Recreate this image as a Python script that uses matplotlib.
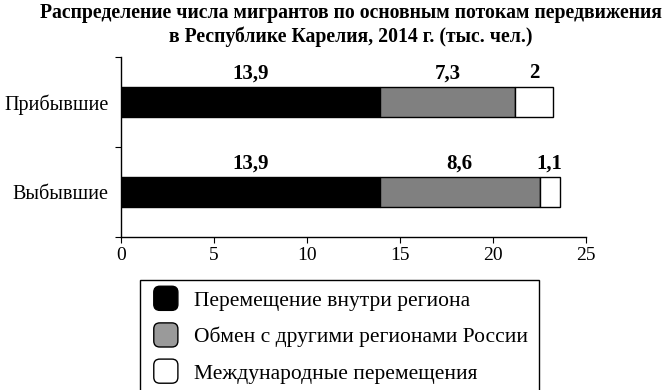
import matplotlib
matplotlib.use("Agg")
import matplotlib.pyplot as plt
from matplotlib.patches import FancyBboxPatch, Rectangle
from matplotlib.legend_handler import HandlerPatch

# данные
categories = ["Прибывшие", "Выбывшие"]
series_names = ["Перемещение внутри региона",
                "Обмен с другими регионами России",
                "Международные перемещения"]
inside = [13.9, 13.9]
other_regions = [7.3, 8.6]
international = [2, 1.1]
value_labels = [["13,9", "7,3", "2"], ["13,9", "8,6", "1,1"]]

plt.rcParams['font.family'] = ['Liberation Serif', 'DejaVu Serif']

# скруглённые квадраты в легенде
class RoundBoxHandler(HandlerPatch):
    def create_artists(self, legend, orig_handle, xdescent, ydescent,
                       width, height, fontsize, trans):
        s = height * 1.6
        x0 = (width - s) / 2 - xdescent
        y0 = (height - s) / 2 - ydescent
        p = FancyBboxPatch((x0, y0), s, s,
                           boxstyle="round,pad=0,rounding_size=%f" % (s * 0.25),
                           facecolor=orig_handle.get_facecolor(),
                           edgecolor="black", linewidth=1.0, transform=trans)
        return [p]

fig = plt.figure(figsize=(6.63, 3.9), dpi=100)
ax = fig.add_axes([121 / 663, 1 - 237 / 390, 465 / 663, 180 / 390])

ypos = [0, 1]
colors = ["black", "#808080", "white"]
left = [0, 0]
for vals, col in zip([inside, other_regions, international], colors):
    ax.barh(ypos, vals, left=left, height=0.333, color=col,
            edgecolor="black", linewidth=1.0)
    left = [l + v for l, v in zip(left, vals)]

# подписи значений над сегментами
for i in range(len(ypos)):
    starts = [0, inside[i], inside[i] + other_regions[i]]
    widths = [inside[i], other_regions[i], international[i]]
    for j in range(3):
        ax.text(starts[j] + widths[j] / 2, ypos[i] - 0.32, value_labels[i][j],
                ha="center", va="center", fontsize=15, fontweight="bold")

ax.set_xlim(0, 25)
ax.set_ylim(1.5, -0.5)
ax.set_xticks([0, 5, 10, 15, 20, 25])
ax.tick_params(axis="x", direction="out", length=4, labelsize=14, pad=3)
ax.set_yticks([-0.5, 0.5, 1.5])
ax.set_yticklabels([])
ax.set_yticks(ypos, minor=True)
ax.set_yticklabels(categories, minor=True)
ax.tick_params(axis="y", which="major", direction="out", length=4)
ax.tick_params(axis="y", which="minor", length=0, labelsize=14.5, pad=9)
for side in ["top", "right"]:
    ax.spines[side].set_visible(False)
for side in ["left", "bottom"]:
    ax.spines[side].set_linewidth(1.0)

fig.text(351 / 663, 1 - 13 / 390, "Распределение числа мигрантов по основным потокам передвижения",
         ha="center", va="center", fontsize=14.2, fontweight="bold")
fig.text(351 / 663, 1 - 37 / 390, "в Республике Карелия, 2014 г. (тыс. чел.)",
         ha="center", va="center", fontsize=14.2, fontweight="bold")

handles = [Rectangle((0, 0), 1, 1, facecolor=c)
           for c in ["black", "#9a9a9a", "white"]]
leg = fig.legend(handles, series_names, loc="upper left",
                 bbox_to_anchor=(140 / 663, 1 - 280 / 390),
                 handler_map={Rectangle: RoundBoxHandler()},
                 fontsize=15.5, frameon=True, fancybox=False,
                 edgecolor="black", framealpha=1, borderpad=0.5,
                 labelspacing=0.75, handlelength=1.4, handletextpad=0.6,
                 borderaxespad=0)
leg.get_frame().set_linewidth(1.0)

fig.savefig("out.png", dpi=100)
